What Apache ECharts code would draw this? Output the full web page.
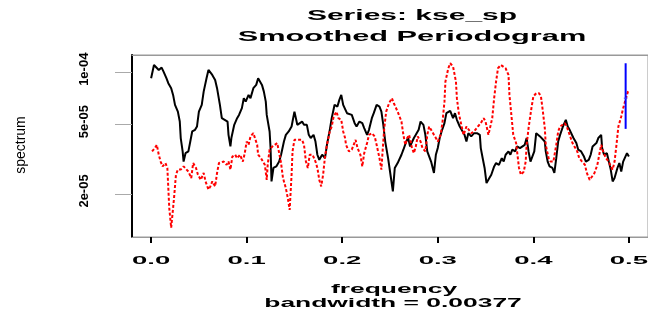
<!DOCTYPE html>
<html>
<head>
<meta charset="utf-8">
<script src="https://cdn.jsdelivr.net/npm/echarts@6/dist/echarts.min.js"></script>
<style>
html, body { margin: 0; padding: 0; background: #fff; }
#spec { width: 648px; height: 314px; }
</style>
</head>
<body>
<div id="spec"></div>
<script>
// smoothed periodogram of kse_sp
// spectrum values are in units of 1e-5
var freqBlack = [
  0.000,0.003,0.005,0.008,0.011,0.013,0.016,0.018,0.021,0.023,
  0.025,0.028,0.030,0.031,0.033,0.034,0.036,0.039,0.041,0.043,
  0.046,0.048,0.050,0.053,0.055,0.058,0.060,0.062,0.064,0.067,
  0.069,0.072,0.074,0.077,0.080,0.081,0.083,0.084,0.087,0.090,
  0.092,0.095,0.097,0.099,0.102,0.104,0.107,0.110,0.112,0.114,
  0.116,0.118,0.120,0.121,0.124,0.125,0.126,0.128,0.131,0.134,
  0.136,0.139,0.141,0.144,0.147,0.148,0.150,0.153,0.155,0.158,
  0.160,0.163,0.165,0.167,0.170,0.172,0.174,0.176,0.179,0.182,
  0.184,0.187,0.189,0.192,0.195,0.197,0.199,0.201,0.203,0.205,
  0.207,0.210,0.213,0.215,0.218,0.221,0.223,0.226,0.228,0.231,
  0.233,0.236,0.239,0.241,0.243,0.245,0.248,0.251,0.253,0.255,
  0.258,0.260,0.262,0.264,0.267,0.269,0.271,0.273,0.275,0.277,
  0.280,0.282,0.285,0.287,0.289,0.291,0.293,0.296,0.298,0.300,
  0.302,0.304,0.307,0.309,0.311,0.313,0.316,0.318,0.320,0.323,
  0.326,0.328,0.330,0.332,0.335,0.338,0.341,0.344,0.345,0.347,
  0.349,0.351,0.354,0.356,0.359,0.361,0.364,0.367,0.369,0.371,
  0.374,0.376,0.378,0.381,0.383,0.386,0.388,0.391,0.393,0.395,
  0.397,0.399,0.401,0.403,0.405,0.407,0.409,0.412,0.413,0.415,
  0.417,0.420,0.422,0.424,0.426,0.428,0.431,0.434,0.436,0.438,
  0.440,0.442,0.445,0.447,0.450,0.453,0.455,0.458,0.460,0.462,
  0.464,0.466,0.468,0.471,0.472,0.474,0.477,0.479,0.481,0.483,
  0.485,0.488,0.490,0.492,0.494,0.496,0.498,0.500
];
var specBlack = [
  9.24,11.01,11.11,10.31,10.63,10.08,9.24,8.65,8.10,7.41,
  6.50,5.94,5.21,4.19,3.51,3.07,3.43,3.51,4.00,4.57,
  4.67,4.88,5.94,6.50,7.74,9.24,10.31,10.17,9.65,9.03,
  8.10,6.50,5.45,5.33,5.21,4.37,3.75,4.19,4.99,5.45,
  5.69,6.22,7.10,6.78,7.41,7.10,8.10,8.46,9.24,9.43,
  8.46,7.74,6.78,5.69,4.57,3.67,2.36,2.82,2.88,3.07,
  3.36,4.00,4.37,4.57,4.88,5.21,5.94,4.99,4.99,5.21,
  4.99,4.99,4.37,4.19,4.37,4.00,3.36,3.14,3.36,3.21,
  3.83,4.67,5.45,6.50,6.35,6.94,7.41,6.50,6.50,5.82,
  5.94,5.69,5.10,4.88,5.21,5.10,4.78,4.37,4.67,5.45,
  5.82,6.50,6.35,5.94,4.99,4.00,3.21,2.47,2.07,2.82,
  3.01,3.07,3.36,3.59,4.00,4.19,3.75,3.67,4.19,4.37,
  4.67,5.21,4.99,4.37,3.51,3.43,3.07,2.64,3.36,3.67,
  4.19,4.57,5.10,5.82,5.69,6.00,5.45,5.82,5.33,4.88,
  4.57,4.37,4.00,4.47,4.28,4.47,4.47,4.37,3.67,3.21,
  2.82,2.31,2.47,2.58,2.88,3.01,2.94,3.21,3.07,3.36,
  3.51,3.36,3.59,3.51,3.75,3.67,3.75,3.83,4.19,3.51,
  3.07,3.14,3.51,4.47,4.57,4.28,4.19,4.00,3.51,3.07,
  2.88,2.82,2.64,3.21,4.00,4.37,4.88,5.33,4.88,4.67,
  4.57,4.19,3.92,3.59,3.51,3.28,3.07,3.14,3.36,3.75,
  3.83,3.92,4.19,4.37,3.67,3.36,3.43,3.07,2.76,2.36,
  2.47,2.82,3.01,2.69,3.07,3.14,3.43,3.28
];
var freqRed = [
  0.001,0.004,0.006,0.008,0.010,0.012,0.015,0.017,0.018,0.019,
  0.021,0.023,0.024,0.026,0.028,0.031,0.034,0.036,0.039,0.042,
  0.044,0.047,0.049,0.052,0.055,0.057,0.060,0.062,0.064,0.067,
  0.069,0.071,0.073,0.076,0.079,0.081,0.083,0.085,0.088,0.090,
  0.093,0.096,0.098,0.100,0.102,0.104,0.107,0.109,0.111,0.112,
  0.115,0.117,0.119,0.121,0.122,0.124,0.127,0.129,0.132,0.134,
  0.136,0.138,0.141,0.143,0.145,0.147,0.148,0.150,0.153,0.155,
  0.158,0.160,0.162,0.164,0.166,0.169,0.172,0.174,0.176,0.178,
  0.180,0.182,0.184,0.187,0.189,0.191,0.194,0.196,0.199,0.201,
  0.203,0.204,0.207,0.210,0.212,0.214,0.216,0.219,0.221,0.223,
  0.226,0.228,0.231,0.234,0.236,0.239,0.241,0.242,0.244,0.246,
  0.249,0.252,0.254,0.255,0.258,0.260,0.262,0.264,0.266,0.268,
  0.270,0.273,0.275,0.277,0.279,0.282,0.284,0.287,0.289,0.291,
  0.293,0.296,0.298,0.300,0.303,0.305,0.307,0.308,0.311,0.313,
  0.316,0.319,0.320,0.322,0.325,0.327,0.330,0.332,0.335,0.338,
  0.340,0.342,0.345,0.348,0.350,0.353,0.355,0.357,0.359,0.361,
  0.363,0.366,0.368,0.371,0.374,0.375,0.377,0.379,0.382,0.383,
  0.385,0.387,0.390,0.392,0.393,0.395,0.398,0.400,0.403,0.406,
  0.408,0.410,0.412,0.413,0.416,0.418,0.421,0.424,0.426,0.428,
  0.430,0.433,0.435,0.438,0.441,0.443,0.446,0.448,0.451,0.454,
  0.456,0.459,0.461,0.464,0.467,0.469,0.471,0.473,0.476,0.479,
  0.481,0.483,0.485,0.487,0.489,0.492,0.494,0.497,0.499,0.500
];
var specRed = [
  3.51,3.67,3.83,3.36,3.07,2.88,3.01,2.82,2.16,1.66,
  1.28,1.66,1.90,2.58,2.76,2.76,2.88,2.94,2.69,2.47,
  3.01,2.82,2.58,2.41,2.64,2.36,2.12,2.21,2.36,2.21,
  2.64,3.01,2.94,3.07,2.94,3.07,2.76,3.28,3.36,3.21,
  3.36,3.07,3.43,4.00,3.83,4.28,4.47,4.37,3.83,3.36,
  3.21,3.14,2.94,2.41,2.94,3.59,3.75,3.67,3.92,3.83,
  3.01,2.47,2.16,1.90,1.62,2.58,3.51,4.09,4.09,4.00,
  4.09,3.83,3.07,2.82,3.36,3.36,3.07,2.82,2.41,2.21,
  2.58,3.28,3.83,4.57,4.88,5.57,5.94,5.45,5.33,4.57,
  4.19,3.83,3.51,3.59,3.51,4.09,3.67,3.36,2.88,3.43,
  3.92,4.37,4.47,4.28,3.83,3.21,2.76,3.36,4.78,5.94,
  6.64,7.10,6.64,6.50,5.94,5.57,5.21,4.37,3.83,4.19,
  4.37,3.67,3.43,3.75,4.28,4.00,3.67,3.51,4.37,4.88,
  4.67,4.37,4.19,4.00,4.37,5.21,6.78,8.83,10.54,11.26,
  10.77,8.83,7.10,5.82,4.88,4.37,4.88,4.78,4.47,4.57,
  4.67,4.88,5.10,5.45,5.21,4.37,4.47,5.45,7.10,8.83,
  10.54,11.01,11.01,10.54,9.65,7.41,5.69,4.37,3.92,3.51,
  2.82,2.58,2.69,3.07,3.83,4.78,6.22,7.25,7.58,7.58,
  7.25,5.94,4.78,3.83,3.21,3.07,3.07,3.83,4.57,4.88,
  4.99,5.10,4.88,4.37,3.92,3.75,3.51,3.21,3.07,2.94,
  2.64,2.41,2.47,2.64,2.94,3.36,3.83,3.51,3.21,3.07,
  2.88,2.76,3.07,3.83,4.88,5.57,6.22,7.10,7.74,7.92
];
// confidence bar (blue), spectrum in 1e-5
var ciFreq = 0.4966;
var ciLow = 4.73;
var ciMid = 7.10;
var ciHigh = 11.26;
var bandwidth = 0.00377;

var xTicks = [0, 0.1, 0.2, 0.3, 0.4, 0.5];
var xTickLabels = ['0.0', '0.1', '0.2', '0.3', '0.4', '0.5'];
var yTicks = [1e-4, 5e-5, 2e-5];
var yTickLabels = ['1e-04', '5e-05', '2e-05'];

function lg(v) { return Math.log10(v * 1e-5); }
function pts(fr, sp) {
  return fr.map(function(f, i) { return [f, lg(sp[i])]; });
}

var chart = echarts.init(document.getElementById('spec'));
var option = {
  animation: false,
  grid: { left: 132, top: 55, width: 521, height: 182, show: true, borderColor: '#999', borderWidth: 1 },
  xAxis: [{
    type: 'value', min: -0.02, max: 0.52,
    axisLine: { show: true, onZero: false, lineStyle: { color: '#999', width: 1 } },
    splitLine: { show: false },
    axisLabel: { show: false },
    axisTick: { show: true, customValues: xTicks, length: 6, lineStyle: { color: '#000', width: 2 } }
  }, {
    // top edge of the box
    type: 'value', position: 'top', min: -0.02, max: 0.52,
    axisLine: { show: true, onZero: false, lineStyle: { color: '#999', width: 1 } },
    splitLine: { show: false }, axisLabel: { show: false }, axisTick: { show: false }
  }],
  yAxis: {
    type: 'value', min: -4.946, max: -3.901,
    axisLine: { show: true, onZero: false, lineStyle: { color: '#000', width: 2 } },
    splitLine: { show: false },
    axisLabel: { show: false },
    axisTick: { show: true, customValues: yTicks.map(Math.log10), length: 17, lineStyle: { color: '#aaa', width: 1 } }
  },
  series: [
    {
      type: 'line', silent: true, showSymbol: false,
      data: pts(freqBlack, specBlack),
      lineStyle: { color: '#000', width: 2 }
    },
    {
      type: 'line', silent: true, showSymbol: false,
      data: pts(freqRed, specRed),
      lineStyle: { color: '#ff0000', width: 2, type: [3, 2] }
    },
    {
      type: 'line', silent: true, showSymbol: false,
      data: [[ciFreq, lg(ciLow)], [ciFreq, lg(ciHigh)]],
      lineStyle: { color: '#0000ff', width: 2 }
    },
    {
      type: 'line', silent: true, showSymbol: false,
      data: [[ciFreq - bandwidth / 2, lg(ciMid)], [ciFreq + bandwidth / 2, lg(ciMid)]],
      lineStyle: { color: '#4444ff', width: 1 }
    }
  ]
};
chart.setOption(option);

// the texts are stretched sideways in the original, so draw them as scaled graphic text
var texts = [];
var measure = document.createElement('canvas').getContext('2d');
function addText(s, x, y, font, sx) {
  texts.push({
    type: 'text', x: x, y: y, scaleX: sx, silent: true,
    style: { text: s, font: font, fill: '#000', align: 'center', verticalAlign: 'middle' }
  });
}
// vertical text, reading upwards, centred on (cx, cy); h is the glyph box height
function addVText(s, cx, cy, font, h) {
  measure.font = font;
  var w = measure.measureText(s).width;
  texts.push({
    type: 'text', x: cx - h / 2, y: cy + w / 2, rotation: Math.PI / 2,
    style: { text: s, font: font, fill: '#000' }
  });
}
addText('Series: kse_sp', 412, 16, 'bold 15px "Liberation Sans"', 2.0);
addText('Smoothed Periodogram', 412, 37, 'bold 15px "Liberation Sans"', 2.05);
xTicks.forEach(function(t, i) {
  var p = chart.convertToPixel({ gridIndex: 0 }, [t, -4.5]);
  addText(xTickLabels[i], p[0], 261, 'bold 11px "Liberation Sans"', 2.5);
});
yTicks.forEach(function(t, i) {
  var p = chart.convertToPixel({ gridIndex: 0 }, [0, Math.log10(t)]);
  addVText(yTickLabels[i], 85, p[1] - 3, 'bold 13px sans-serif', 15);
});
addVText('spectrum', 22, 145, '14px sans-serif', 16);
addText('frequency', 394, 290, 'bold 12px "Liberation Sans"', 2.2);
addText('bandwidth = 0.00377', 393, 304, 'bold 12px "Liberation Sans"', 2.2);
chart.setOption({ graphic: texts });
</script>
</body>
</html>
